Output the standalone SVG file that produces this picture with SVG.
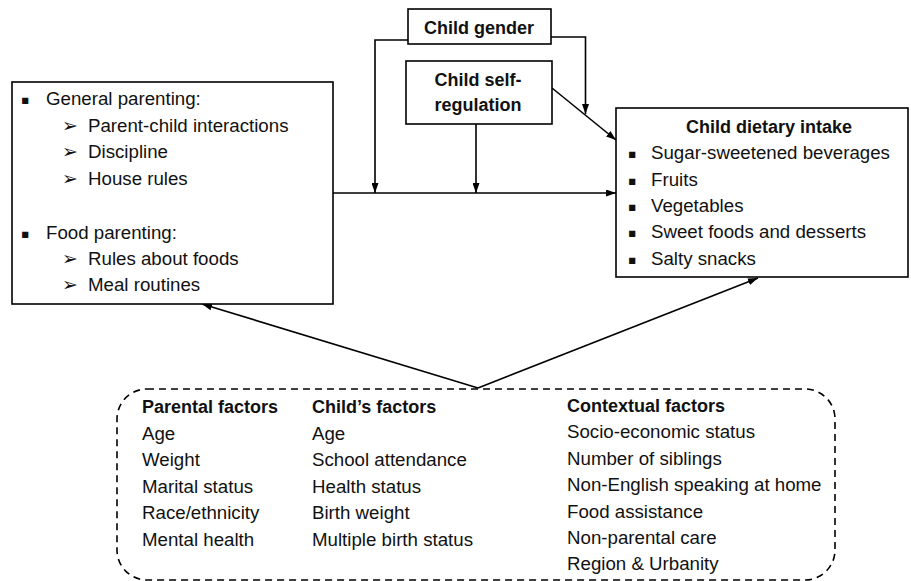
<svg xmlns="http://www.w3.org/2000/svg" width="911" height="581" viewBox="0 0 911 581">
<defs>
<style>
.box{fill:#fff;stroke:#000;stroke-width:1.6}
.dash{fill:none;stroke:#000;stroke-width:1.6;stroke-dasharray:7 5}
.t{font-family:"Liberation Sans",Arial,sans-serif;font-size:18.7px;fill:#111}
.b{font-family:"Liberation Sans",Arial,sans-serif;font-size:18px;font-weight:bold;fill:#111}
.sym{font-family:"DejaVu Sans",sans-serif;font-size:12.5px;fill:#111}
.arr{font-family:"DejaVu Sans",sans-serif;font-size:19px;fill:#111}
.ln{fill:none;stroke:#000;stroke-width:1.6}
</style>
<marker id="ah" viewBox="0 0 10 7" refX="10" refY="3.5" markerWidth="10" markerHeight="7" markerUnits="userSpaceOnUse" orient="auto">
<path d="M0,0 L10,3.5 L0,7 z" fill="#000"/>
</marker>
</defs>
<rect width="911" height="581" fill="#fff"/>

<g id="connectors">
<line class="ln" x1="333" y1="193" x2="616" y2="193" marker-end="url(#ah)"/>
<polyline class="ln" points="408,40 375,40 375,193" marker-end="url(#ah)"/>
<polyline class="ln" points="551,37 585.5,37 585.5,114" marker-end="url(#ah)"/>
<line class="ln" x1="476" y1="124" x2="476" y2="193" marker-end="url(#ah)"/>
<line class="ln" x1="552" y1="88" x2="616" y2="140" marker-end="url(#ah)"/>
<line class="ln" x1="478" y1="388" x2="202" y2="304" marker-end="url(#ah)"/>
<line class="ln" x1="478" y1="388" x2="758" y2="278" marker-end="url(#ah)"/>
</g>

<g id="child-gender">
<rect class="box" x="408" y="9" width="143" height="35"/>
<text class="b" x="479" y="34" text-anchor="middle">Child gender</text>
</g>

<g id="child-self-regulation">
<rect class="box" x="406" y="61" width="146" height="63"/>
<text class="b" x="478" y="86" text-anchor="middle">Child self-</text>
<text class="b" x="478" y="111" text-anchor="middle">regulation</text>
</g>

<g id="parenting">
<rect class="box" x="12" y="82" width="321" height="222"/>
<text class="sym" x="21" y="104">▪</text>
<text class="t" x="46" y="105">General parenting:</text>
<text class="arr" x="62" y="132">➢</text>
<text class="t" x="88" y="132">Parent-child interactions</text>
<text class="arr" x="62" y="158">➢</text>
<text class="t" x="88" y="158">Discipline</text>
<text class="arr" x="62" y="185">➢</text>
<text class="t" x="88" y="185">House rules</text>
<text class="sym" x="21" y="238">▪</text>
<text class="t" x="46" y="239">Food parenting:</text>
<text class="arr" x="62" y="265">➢</text>
<text class="t" x="88" y="265">Rules about foods</text>
<text class="arr" x="62" y="291">➢</text>
<text class="t" x="88" y="291">Meal routines</text>
</g>

<g id="child-dietary-intake">
<rect class="box" x="616" y="108" width="292" height="169"/>
<text class="b" x="769" y="133" text-anchor="middle">Child dietary intake</text>
<text class="sym" x="628" y="158">▪</text>
<text class="t" x="651" y="159">Sugar-sweetened beverages</text>
<text class="sym" x="628" y="185">▪</text>
<text class="t" x="651" y="186">Fruits</text>
<text class="sym" x="628" y="211">▪</text>
<text class="t" x="651" y="212">Vegetables</text>
<text class="sym" x="628" y="237">▪</text>
<text class="t" x="651" y="238">Sweet foods and desserts</text>
<text class="sym" x="628" y="264">▪</text>
<text class="t" x="651" y="265">Salty snacks</text>
</g>

<g id="covariates">
<rect class="dash" x="117" y="389" width="718" height="191" rx="30" ry="30"/>
<text class="b" x="142" y="413">Parental factors</text>
<text class="t" x="142" y="440">Age</text>
<text class="t" x="142" y="466">Weight</text>
<text class="t" x="142" y="493">Marital status</text>
<text class="t" x="142" y="519">Race/ethnicity</text>
<text class="t" x="142" y="546">Mental health</text>
<text class="b" x="312" y="413">Child’s factors</text>
<text class="t" x="312" y="440">Age</text>
<text class="t" x="312" y="466">School attendance</text>
<text class="t" x="312" y="493">Health status</text>
<text class="t" x="312" y="519">Birth weight</text>
<text class="t" x="312" y="546">Multiple birth status</text>
<text class="b" x="567" y="412">Contextual factors</text>
<text class="t" x="567" y="438">Socio-economic status</text>
<text class="t" x="567" y="465">Number of siblings</text>
<text class="t" x="567" y="491">Non-English speaking at home</text>
<text class="t" x="567" y="518">Food assistance</text>
<text class="t" x="567" y="544">Non-parental care</text>
<text class="t" x="567" y="570">Region &amp; Urbanity</text>
</g>
</svg>
